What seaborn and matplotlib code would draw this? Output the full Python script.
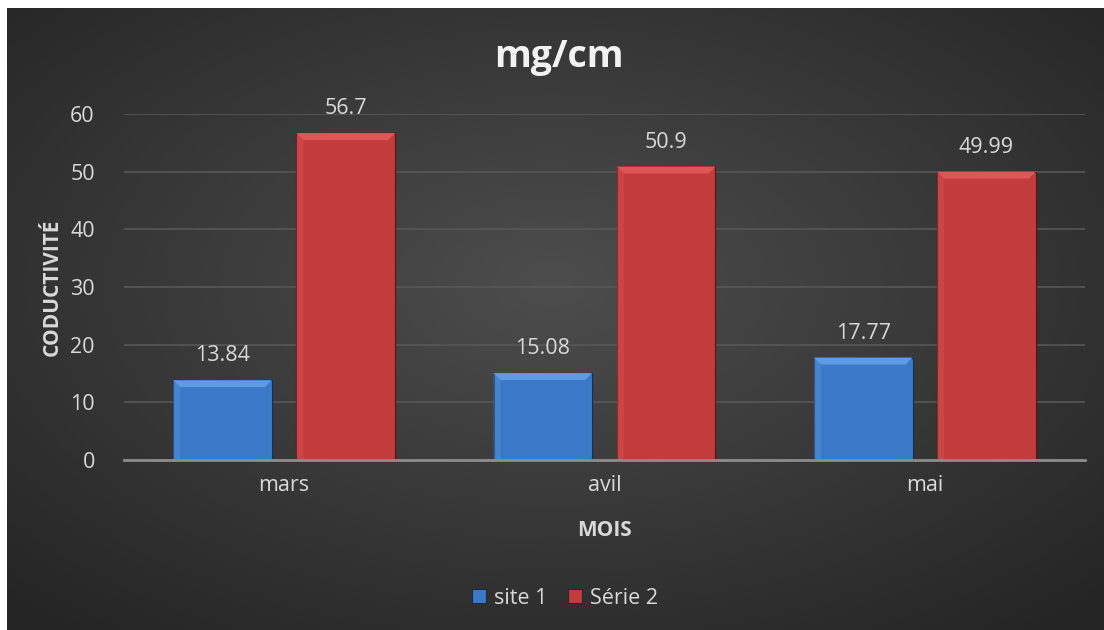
import numpy as np
import pandas as pd
import matplotlib
matplotlib.use("Agg")
import matplotlib.pyplot as plt
from matplotlib.patches import Polygon, Rectangle
import seaborn as sns

months = ["mars", "avil", "mai"]
site1 = [13.84, 15.08, 17.77]
serie2 = [56.7, 50.9, 49.99]
series_names = ["site 1", "Série 2"]
yticks = [0, 10, 20, 30, 40, 50, 60]

df = pd.DataFrame({
    "mois": months * 2,
    "valeur": site1 + serie2,
    "serie": [series_names[0]] * 3 + [series_names[1]] * 3,
})

sns.set_theme(style="dark")
plt.rcParams["font.family"] = ["Open Sans", "DejaVu Sans"]

W, H = 1104, 630
fig = plt.figure(figsize=(W / 100, H / 100), dpi=100)
fig.patch.set_facecolor("#262626")

# background panel with radial gradient
bg = fig.add_axes([0, 0, 1, 1], zorder=0)
yy, xx = np.mgrid[-1:1:315j, -1:1:552j]
r = np.sqrt((xx / 1.05) ** 2 + ((yy + 0.1) / 1.05) ** 2)
r = np.clip(r, 0, 1.35) / 1.35
c0 = np.array([0x4d, 0x4d, 0x4d]) / 255
c1 = np.array([0x25, 0x25, 0x25]) / 255
img = c0[None, None, :] * (1 - r[..., None]) + c1[None, None, :] * r[..., None]
bg.imshow(img, aspect="auto", extent=[0, 1, 0, 1], interpolation="bilinear")
bg.set_xlim(0, 1)
bg.set_ylim(0, 1)
bg.set_axis_off()
# white margins at left and top
fig.patches.append(Rectangle((0, 0), 7 / W, 1, transform=fig.transFigure,
                             facecolor="white", edgecolor="none", zorder=5))
fig.patches.append(Rectangle((0, 1 - 8 / H), 1, 8 / H, transform=fig.transFigure,
                             facecolor="white", edgecolor="none", zorder=5))

ax = fig.add_axes([124 / W, 1 - 460 / H, (1085 - 124) / W, (460 - 114) / H], zorder=1)
ax.patch.set_alpha(0)

palette = {series_names[0]: "#3a78c8", series_names[1]: "#c23c3c"}
sns.barplot(data=df, x="mois", y="valeur", hue="serie", palette=palette,
            width=0.77, gap=0.2, saturation=1, edgecolor="#1e2a3a",
            linewidth=0.8, ax=ax, legend=True)

ax.set_ylim(0, 60)
ax.set_xlim(-0.5, 2.5)

# bevel on top of each bar
bx = 7 / 320.0
by = 7 / (346 / 60.0)
bevel_cols = ["#5d9be3", "#e05656"]
edge_cols = ["#14305a", "#5a1414"]
for cont, bcol, ecol in zip(ax.containers, bevel_cols, edge_cols):
    for p in cont:
        p.set_edgecolor(ecol)
        x0, y0, w, h = p.get_x(), p.get_y(), p.get_width(), p.get_height()
        top = y0 + h
        ax.add_patch(Polygon([(x0, top), (x0 + w, top), (x0 + w - bx, top - by),
                              (x0 + bx, top - by)], closed=True,
                             facecolor=bcol, edgecolor="none", zorder=3))
        ax.add_patch(Polygon([(x0, top), (x0 + bx, top - by), (x0 + bx, y0),
                              (x0, y0)], closed=True, facecolor=bcol, alpha=0.35,
                             edgecolor="none", zorder=3))
    ax.bar_label(cont, labels=[f"{v:g}" for v in cont.datavalues], padding=10,
                 color="#d9d9d9", fontsize=15.5)

ax.set_yticks(yticks)
ax.set_yticklabels([str(t) for t in yticks])
ax.grid(axis="y", color="#575757", linewidth=1.2, zorder=0)
ax.grid(axis="x", visible=False)
ax.set_axisbelow(True)
for s in ["top", "right", "left"]:
    ax.spines[s].set_visible(False)
ax.spines["bottom"].set_color("#8c8c8c")
ax.spines["bottom"].set_linewidth(2)
ax.spines["bottom"].set_zorder(4)
ax.tick_params(axis="both", length=0, colors="#d9d9d9", labelsize=15.5)
ax.tick_params(axis="y", pad=21)
ax.tick_params(axis="x", pad=11)

ax.set_xlabel("MOIS", color="#d9d9d9", fontsize=15, fontweight="bold", labelpad=17)
ax.set_ylabel("CODUCTIVITÉ", color="#d9d9d9", fontsize=15, fontweight="bold")
ax.yaxis.set_label_coords(-(124 - 63) / (1085 - 124), (460 - 287) / (460 - 114))

fig.text(559 / W, 1 - 57 / H, "mg/cm", ha="center", va="center",
         fontsize=27, fontweight="bold", color="#f2f2f2")

leg = ax.legend(loc="center", bbox_to_anchor=(565 / W, 1 - 598 / H),
                bbox_transform=fig.transFigure, ncol=2, frameon=False,
                fontsize=15.5, handlelength=0.65, handleheight=0.65,
                handletextpad=0.35, columnspacing=1.0)
for t in leg.get_texts():
    t.set_color("#d9d9d9")

fig.savefig("out.png", dpi=100, facecolor=fig.get_facecolor())
